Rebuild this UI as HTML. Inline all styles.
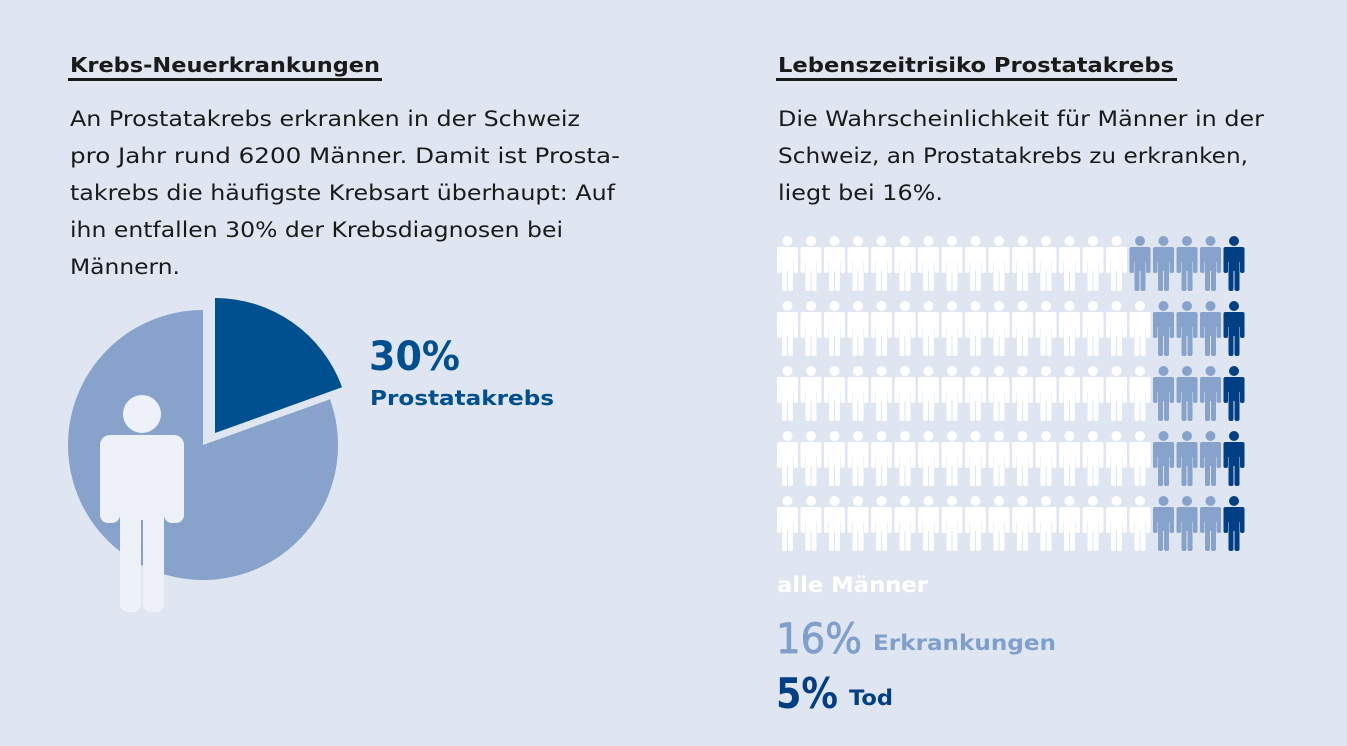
<!DOCTYPE html>
<html><head><meta charset="utf-8"><style>
html,body{margin:0;padding:0;background:#dfe5f1;}
svg{display:block;font-family:"DejaVu Sans","Liberation Sans",sans-serif;}
</style></head><body>
<svg width="1347" height="746" viewBox="0 0 1347 746">
<rect width="1347" height="746" fill="#dfe5f1"/>
<text x="70" y="72" font-size="20" font-weight="bold" fill="#1a1a1a" textLength="310" lengthAdjust="spacingAndGlyphs">Krebs-Neuerkrankungen</text>
<rect x="68" y="78" width="314" height="3" fill="#1a1a1a"/>
<g font-size="21" fill="#1a1a1a">
<text x="70" y="126" textLength="510" lengthAdjust="spacingAndGlyphs">An Prostatakrebs erkranken in der Schweiz</text>
<text x="70" y="163" textLength="550" lengthAdjust="spacingAndGlyphs">pro Jahr rund 6200 Männer. Damit ist Prosta-</text>
<text x="70" y="200" textLength="545" lengthAdjust="spacingAndGlyphs">takrebs die häufigste Krebsart überhaupt: Auf</text>
<text x="70" y="237" textLength="493" lengthAdjust="spacingAndGlyphs">ihn entfallen 30% der Krebsdiagnosen bei</text>
<text x="70" y="274" textLength="110" lengthAdjust="spacingAndGlyphs">Männern.</text>
</g>
<text x="778" y="72" font-size="20" font-weight="bold" fill="#1a1a1a" textLength="396" lengthAdjust="spacingAndGlyphs">Lebenszeitrisiko Prostatakrebs</text>
<rect x="776" y="78" width="401" height="3" fill="#1a1a1a"/>
<g font-size="21" fill="#1a1a1a">
<text x="778" y="126" textLength="486" lengthAdjust="spacingAndGlyphs">Die Wahrscheinlichkeit für Männer in der</text>
<text x="778" y="163" textLength="470" lengthAdjust="spacingAndGlyphs">Schweiz, an Prostatakrebs zu erkranken,</text>
<text x="778" y="200" textLength="165" lengthAdjust="spacingAndGlyphs">liegt bei 16%.</text>
</g>
<g id="pie"></g>
<g fill="#eef1f8">
<circle cx="142" cy="414" r="19"/>
<rect x="100" y="435" width="84" height="60" rx="10"/>
<rect x="100" y="450" width="20" height="73" rx="8"/>
<rect x="164" y="450" width="20" height="73" rx="8"/>
<rect x="120" y="450" width="44" height="70"/>
<rect x="120" y="500" width="21" height="112" rx="8"/>
<rect x="143" y="500" width="21" height="112" rx="8"/>
</g>
<text x="369" y="370" font-size="40" font-weight="bold" fill="#00508f" textLength="91" lengthAdjust="spacingAndGlyphs">30%</text>
<text x="370" y="405" font-size="20" font-weight="bold" fill="#00508f" textLength="184" lengthAdjust="spacingAndGlyphs">Prostatakrebs</text>
<g id="grid"></g>
<text x="777" y="592" font-size="21" font-weight="bold" fill="#ffffff" textLength="151" lengthAdjust="spacingAndGlyphs">alle Männer</text>
<text x="776" y="653" font-size="42" fill="#7f9fcc" stroke="#7f9fcc" stroke-width="0.8" textLength="86" lengthAdjust="spacingAndGlyphs">16%</text>
<text x="873" y="650" font-size="21" font-weight="bold" fill="#7f9fcc" textLength="183" lengthAdjust="spacingAndGlyphs">Erkrankungen</text>
<text x="776" y="708" font-size="42" font-weight="bold" fill="#003f84" textLength="62" lengthAdjust="spacingAndGlyphs">5%</text>
<text x="849" y="705" font-size="21" font-weight="bold" fill="#003f84" textLength="44" lengthAdjust="spacingAndGlyphs">Tod</text>
</svg>
<script>
const pieLabels = ["Prostatakrebs", "Andere"];
const pieValues = [19.5, 80.5];
const pieColors = ["#00508f", "#87a3cb"];
const rowWhite = [15, 16, 16, 16, 16];
const rowLight = [4, 3, 3, 3, 3];
const rowDark = [1, 1, 1, 1, 1];

const NS = "http://www.w3.org/2000/svg";
(function(){
  const g = document.getElementById('pie');
  const cx = 203, cy = 445, r = 135;
  const total = pieValues.reduce((a,b)=>a+b,0);
  let a0 = 0;
  pieValues.forEach((v,i)=>{
    const a1 = a0 + v/total*2*Math.PI;
    const ox = i===0 ? cx + 12 : cx, oy = i===0 ? cy - 12 : cy;
    const x0 = ox + r*Math.sin(a0), y0 = oy - r*Math.cos(a0);
    const x1 = ox + r*Math.sin(a1), y1 = oy - r*Math.cos(a1);
    const large = (a1-a0) > Math.PI ? 1 : 0;
    const p = document.createElementNS(NS,'path');
    p.setAttribute('d', `M${ox},${oy} L${x0},${y0} A${r},${r} 0 ${large} 1 ${x1},${y1} Z`);
    p.setAttribute('fill', pieColors[i]);
    
    
    g.appendChild(p);
    a0 = a1;
  });
})();
(function(){
  const g = document.getElementById('grid');
  const x0 = 777, y0 = 236, dx = 23.5, dy = 65;
  function person(x, y, color){
    const pg = document.createElementNS(NS,'g');
    pg.setAttribute('fill', color);
    const parts = [
      ['circle',{cx:x+10.5, cy:y+5, r:5}],
      ['rect',{x:x, y:y+11, width:21, height:15, rx:3}],
      ['rect',{x:x, y:y+11, width:4.5, height:26, rx:2}],
      ['rect',{x:x+16.5, y:y+11, width:4.5, height:26, rx:2}],
      ['rect',{x:x+5, y:y+11, width:11, height:24}],
      ['rect',{x:x+5, y:y+30, width:5, height:25, rx:2}],
      ['rect',{x:x+11, y:y+30, width:5, height:25, rx:2}]
    ];
    parts.forEach(([t,at])=>{
      const e = document.createElementNS(NS,t);
      for (const k in at) e.setAttribute(k, at[k]);
      pg.appendChild(e);
    });
    return pg;
  }
  rowWhite.forEach((w,ri)=>{
    const counts = [[w,'#ffffff'],[rowLight[ri],'#87a3cb'],[rowDark[ri],'#003f84']];
    let c = 0;
    counts.forEach(([n,col])=>{
      for (let k=0;k<n;k++){
        const p = person(x0 + c*dx, y0 + ri*dy, col);
        
        
        g.appendChild(p);
        c++;
      }
    });
  });
})();
</script>
</body></html>
